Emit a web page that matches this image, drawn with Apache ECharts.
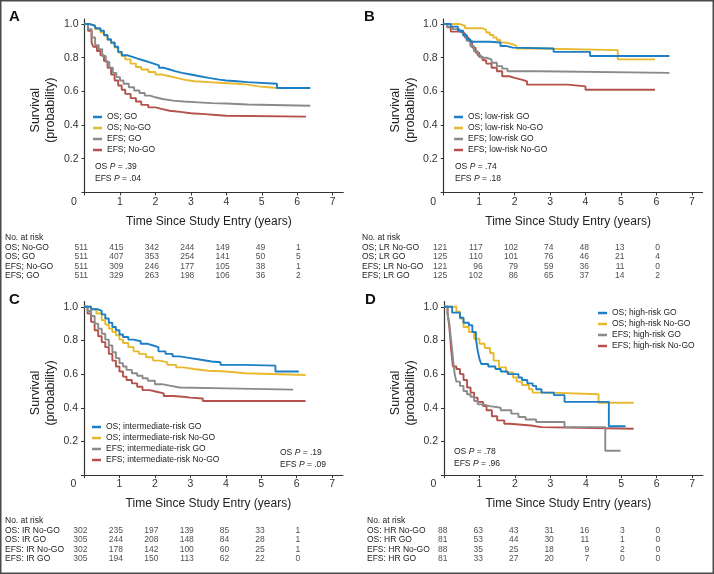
<!DOCTYPE html>
<html>
<head>
<meta charset="utf-8">
<script src="https://cdn.jsdelivr.net/npm/echarts@6/dist/echarts.min.js"></script>
<style>
  html, body { margin: 0; padding: 0; background: #fff; }
  #main { width: 714px; height: 574px; }
</style>
</head>
<body>
<div id="main"></div>
<script>
(function () {
var myChart = echarts.init(document.getElementById('main'));

var FONT = '"Liberation Sans", Arial, Helvetica, sans-serif';
var colors = ['#1c7ec4', '#e6b92e', '#8a8a8a', '#b4514b'];
var years = [0, 1, 2, 3, 4, 5, 6];

// ---- panel A: all patients
var namesA = ['OS; GO', 'OS; No-GO', 'EFS; GO', 'EFS; No-GO'];
var osGoA = [[0,1],[0.15,0.99],[0.3,0.975],[0.45,0.96],[0.55,0.935],[0.65,0.91],[0.75,0.89],[0.85,0.865],[0.95,0.835],[1.05,0.815],[1.2,0.805],[1.35,0.795],[1.5,0.785],[1.65,0.775],[1.8,0.765],[1.95,0.755],[2.1,0.74],[2.25,0.73],[2.4,0.72],[2.55,0.71],[2.75,0.70],[3.0,0.69],[3.25,0.68],[3.5,0.67],[3.8,0.665],[4.0,0.66],[4.3,0.655],[4.6,0.645],[5.43,0.62],[6.37,0.62]];
var osNoGoA = [[0,1],[0.15,0.99],[0.3,0.97],[0.45,0.95],[0.55,0.93],[0.65,0.905],[0.75,0.885],[0.85,0.86],[0.95,0.83],[1.05,0.81],[1.15,0.79],[1.3,0.765],[1.45,0.745],[1.6,0.73],[1.8,0.715],[2.0,0.70],[2.2,0.69],[2.4,0.68],[2.6,0.67],[2.8,0.66],[3.1,0.655],[3.5,0.65],[3.9,0.645],[4.3,0.64],[4.6,0.63],[4.9,0.62],[5.43,0.62]];
var efsGoA = [[0,1],[0.1,0.97],[0.2,0.92],[0.3,0.875],[0.4,0.85],[0.5,0.81],[0.6,0.775],[0.7,0.74],[0.8,0.71],[0.9,0.685],[1.0,0.665],[1.1,0.645],[1.25,0.625],[1.4,0.605],[1.55,0.59],[1.7,0.575],[1.85,0.565],[2.0,0.555],[2.2,0.545],[2.5,0.54],[2.8,0.535],[3.2,0.53],[3.6,0.528],[4.0,0.522],[4.6,0.515],[6.37,0.515]];
var efsNoGoA = [[0,1],[0.1,0.96],[0.2,0.89],[0.25,0.865],[0.35,0.84],[0.45,0.815],[0.55,0.78],[0.65,0.74],[0.75,0.70],[0.85,0.665],[0.95,0.635],[1.05,0.61],[1.15,0.585],[1.3,0.56],[1.45,0.54],[1.6,0.52],[1.8,0.505],[2.0,0.495],[2.2,0.485],[2.4,0.478],[2.7,0.47],[3.0,0.465],[3.4,0.46],[3.7,0.455],[4.0,0.45],[6.25,0.45]];
var riskRowsA = ['No. at risk', 'OS; No-GO', 'OS; GO', 'EFS; No-GO', 'EFS; GO'];
var riskA = [
  [511, 415, 342, 244, 149, 49, 1],
  [511, 407, 353, 254, 141, 50, 5],
  [511, 309, 246, 177, 105, 38, 1],
  [511, 329, 263, 198, 106, 36, 2]
];

// ---- panel B: low risk
var namesB = ['OS; low-risk GO', 'OS; low-risk No-GO', 'EFS; low-risk GO', 'EFS; low-risk No-GO'];
var osGoB = [[0,1],[0.2,0.985],[0.4,0.96],[0.55,0.935],[0.65,0.91],[0.75,0.895],[1.3,0.89],[1.6,0.87],[1.75,0.86],[1.95,0.855],[3.1,0.835],[4.13,0.81],[6.37,0.81]];
var osNoGoB = [[0,1],[0.45,0.99],[0.6,0.975],[1.1,0.965],[1.2,0.95],[1.3,0.935],[1.4,0.92],[1.5,0.905],[1.6,0.89],[1.75,0.88],[1.95,0.87],[2.05,0.855],[2.6,0.845],[4.91,0.79],[5.96,0.79]];
var efsGoB = [[0,1],[0.1,0.985],[0.25,0.97],[0.45,0.955],[0.55,0.93],[0.65,0.9],[0.75,0.87],[0.85,0.84],[0.95,0.815],[1.05,0.80],[1.2,0.79],[1.35,0.77],[1.5,0.75],[1.65,0.735],[1.8,0.72],[2.7,0.71],[6.37,0.71]];
var efsNoGoB = [[0,1],[0.1,0.98],[0.2,0.955],[0.45,0.945],[0.6,0.92],[0.7,0.9],[0.8,0.86],[0.9,0.83],[1.0,0.805],[1.1,0.785],[1.2,0.765],[1.35,0.74],[1.5,0.72],[1.65,0.69],[1.85,0.68],[2.0,0.67],[2.2,0.66],[2.35,0.64],[3.5,0.63],[4.0,0.61],[5.96,0.61]];
var riskRowsB = ['No. at risk', 'OS; LR No-GO', 'OS; LR GO', 'EFS; LR No-GO', 'EFS; LR GO'];
var riskB = [
  [121, 117, 102, 74, 48, 13, 0],
  [125, 110, 101, 76, 46, 21, 4],
  [121, 96, 79, 59, 36, 11, 0],
  [125, 102, 86, 65, 37, 14, 2]
];

// ---- panel C: intermediate risk
var namesC = ['OS; intermediate-risk GO', 'OS; intermediate-risk No-GO', 'EFS; intermediate-risk GO', 'EFS; intermediate-risk No-GO'];
var osGoC = [[0,1],[0.2,0.985],[0.4,0.975],[0.5,0.955],[0.6,0.93],[0.7,0.905],[0.8,0.88],[0.9,0.86],[1.0,0.835],[1.1,0.82],[1.25,0.805],[1.4,0.795],[1.6,0.78],[1.8,0.77],[1.95,0.76],[2.1,0.735],[2.3,0.72],[2.5,0.705],[2.7,0.695],[3.0,0.685],[3.3,0.675],[3.6,0.67],[3.85,0.655],[4.5,0.65],[5.4,0.615],[6.06,0.615]];
var osNoGoC = [[0,1],[0.2,0.985],[0.35,0.96],[0.5,0.92],[0.6,0.895],[0.7,0.87],[0.8,0.85],[0.9,0.83],[1.0,0.805],[1.1,0.785],[1.25,0.76],[1.4,0.735],[1.55,0.72],[1.75,0.70],[1.95,0.68],[2.15,0.67],[2.35,0.655],[2.6,0.64],[2.8,0.63],[3.1,0.62],[3.5,0.615],[4.0,0.605],[4.55,0.595],[6.25,0.595]];
var efsGoC = [[0,1],[0.1,0.975],[0.2,0.945],[0.3,0.9],[0.4,0.87],[0.5,0.84],[0.6,0.805],[0.7,0.77],[0.8,0.73],[0.9,0.695],[1.0,0.665],[1.1,0.645],[1.2,0.625],[1.35,0.605],[1.5,0.59],[1.65,0.575],[1.8,0.56],[2.0,0.54],[2.2,0.53],[2.45,0.52],[2.7,0.515],[4.0,0.508],[5.9,0.508]];
var efsNoGoC = [[0,1],[0.1,0.96],[0.2,0.91],[0.3,0.86],[0.4,0.825],[0.5,0.79],[0.6,0.76],[0.7,0.72],[0.8,0.68],[0.9,0.645],[1.0,0.615],[1.1,0.585],[1.2,0.565],[1.35,0.545],[1.5,0.525],[1.65,0.505],[1.85,0.495],[2.05,0.485],[2.25,0.47],[2.5,0.465],[2.8,0.46],[3.0,0.455],[3.35,0.44],[6.25,0.44]];
var riskRowsC = ['No. at risk', 'OS: IR No-GO', 'OS: IR GO', 'EFS: IR No-GO', 'EFS: IR GO'];
var riskC = [
  [302, 235, 197, 139, 85, 33, 1],
  [305, 244, 208, 148, 84, 28, 1],
  [302, 178, 142, 100, 60, 25, 1],
  [305, 194, 150, 113, 62, 22, 0]
];

// ---- panel D: high risk
var namesD = ['OS; high-risk GO', 'OS; high-risk No-GO', 'EFS; high-risk GO', 'EFS; high-risk No-GO'];
var osGoD = [[0,1],[0.23,0.965],[0.45,0.935],[0.55,0.905],[0.7,0.89],[0.8,0.85],[0.9,0.81],[0.95,0.74],[1.0,0.69],[1.05,0.66],[1.25,0.645],[1.45,0.63],[1.6,0.615],[1.8,0.60],[2.1,0.58],[2.2,0.565],[2.35,0.545],[2.5,0.53],[2.6,0.51],[2.75,0.49],[3.1,0.475],[3.4,0.435],[4.65,0.29],[5.12,0.29]];
var osNoGoD = [[0,1],[0.35,0.97],[0.45,0.93],[0.55,0.88],[0.7,0.85],[0.85,0.81],[1.0,0.78],[1.15,0.755],[1.3,0.725],[1.4,0.68],[1.55,0.64],[1.75,0.61],[1.95,0.58],[2.05,0.555],[2.2,0.535],[2.4,0.51],[2.5,0.49],[3.0,0.48],[4.36,0.43],[5.35,0.43]];
var efsGoD = [[0,1],[0.1,0.96],[0.15,0.9],[0.2,0.8],[0.25,0.7],[0.3,0.6],[0.35,0.555],[0.45,0.53],[0.55,0.5],[0.65,0.48],[0.75,0.465],[0.85,0.44],[0.95,0.42],[1.1,0.41],[1.3,0.40],[1.6,0.385],[1.9,0.365],[2.1,0.345],[2.3,0.33],[2.6,0.315],[3.4,0.285],[4.55,0.145],[4.98,0.145]];
var efsNoGoD = [[0,1],[0.1,0.96],[0.15,0.88],[0.2,0.75],[0.25,0.645],[0.35,0.63],[0.45,0.6],[0.55,0.565],[0.65,0.52],[0.75,0.49],[0.85,0.46],[0.95,0.435],[1.1,0.41],[1.2,0.385],[1.35,0.35],[1.5,0.325],[1.7,0.305],[1.85,0.295],[2.45,0.285],[2.75,0.275],[5.35,0.275]];
var riskRowsD = ['No. at risk', 'OS: HR No-GO', 'OS: HR GO', 'EFS: HR No-GO', 'EFS: HR GO'];
var riskD = [
  [88, 63, 43, 31, 16, 3, 0],
  [81, 53, 44, 30, 11, 1, 0],
  [88, 35, 25, 18, 9, 2, 0],
  [81, 33, 27, 20, 7, 0, 0]
];

// layout of each panel (pixels)
var panels = [
  { key: 'A', names: namesA, curves: [osGoA, osNoGoA, efsGoA, efsNoGoA], rows: riskRowsA, risk: riskA,
    left: 84.5, top: 19, tableTop: 233.3, rowX: 5, letter: [9, 9],
    legend: { left: 93, top: 111.5 }, p: ['.39', '.04'], pPos: [95, 161] },
  { key: 'B', names: namesB, curves: [osGoB, osNoGoB, efsGoB, efsNoGoB], rows: riskRowsB, risk: riskB,
    left: 443.7, top: 19, tableTop: 233.3, rowX: 362, letter: [364, 9],
    legend: { left: 454, top: 111.5 }, p: ['.74', '.18'], pPos: [455, 161] },
  { key: 'C', names: namesC, curves: [osGoC, osNoGoC, efsGoC, efsNoGoC], rows: riskRowsC, risk: riskC,
    left: 84, top: 301.7, tableTop: 516.3, rowX: 5, letter: [9, 292],
    legend: { left: 92, top: 421.5 }, p: ['.19', '.09'], pPos: [280, 447] },
  { key: 'D', names: namesD, curves: [osGoD, osNoGoD, efsGoD, efsNoGoD], rows: riskRowsD, risk: riskD,
    left: 444, top: 301.7, tableTop: 516.3, rowX: 367, letter: [365, 292],
    legend: { left: 598, top: 307.5 }, p: ['.78', '.96'], pPos: [454, 446] }
];

var XMAX = 7.3, PX_YEAR = 35.45, PLOT_H = 173.4, ROW_H = 9.5;

var grid = [], xAxis = [], yAxis = [], series = [], legend = [], graphic = [];

panels.forEach(function (p) {
  var gi = grid.length;
  grid.push({ left: p.left, top: p.top, width: XMAX * PX_YEAR, height: PLOT_H });
  grid.push({ left: p.left, top: p.tableTop, width: XMAX * PX_YEAR, height: ROW_H * p.rows.length });

  xAxis.push({
    gridIndex: gi, type: 'value', min: 0, max: XMAX, interval: 1,
    splitLine: { show: false },
    axisLine: { lineStyle: { color: '#333', width: 1.2 } },
    axisTick: { length: 3, lineStyle: { color: '#333' } },
    axisLabel: {
      margin: 4, color: '#333', fontSize: 10.5, fontFamily: FONT, showMaxLabel: false,
      formatter: function (v) { return v === 0 ? '{z|0}' : (v > 7 ? '' : String(v)); },
      rich: { z: { fontSize: 10.5, fontFamily: FONT, color: '#333', padding: [0, 21, 0, 0] } }
    },
    name: 'Time Since Study Entry (years)', nameLocation: 'middle', nameGap: 23,
    nameTextStyle: { fontSize: 12, fontFamily: FONT, color: '#222', padding: [0, 10, 0, 0] }
  });
  yAxis.push({
    gridIndex: gi, type: 'value', min: 0, max: 1.03, interval: 0.2,
    splitLine: { show: false },
    axisLine: { show: true, lineStyle: { color: '#333', width: 1.2 } },
    axisTick: { show: true, length: 3, lineStyle: { color: '#333' } },
    axisLabel: {
      margin: 6, color: '#333', fontSize: 10.5, fontFamily: FONT,
      formatter: function (v) { return v === 0 ? '' : v.toFixed(1); }
    },
    name: 'Survival\n(probability)', nameLocation: 'middle', nameGap: 26, nameRotate: 90,
    nameTextStyle: { fontSize: 12.5, lineHeight: 15, fontFamily: FONT, color: '#222', padding: [0, 0, 0, -9] }
  });

  // table axes
  xAxis.push({ gridIndex: gi + 1, type: 'value', min: 0, max: XMAX, show: false });
  yAxis.push({
    gridIndex: gi + 1, type: 'category', data: p.rows, inverse: true,
    axisLine: { show: false }, axisTick: { show: false }, splitLine: { show: false },
    axisLabel: { interval: 0, align: 'left', margin: p.left - p.rowX, color: '#222', fontSize: 8.5, fontFamily: FONT }
  });

  p.curves.forEach(function (c, k) {
    series.push({
      name: p.names[k], type: 'line', step: 'end', xAxisIndex: gi, yAxisIndex: gi,
      data: c, showSymbol: false, symbol: 'none', z: 10 - k,
      lineStyle: { color: colors[k], width: 1.9 }, itemStyle: { color: colors[k] }
    });
  });

  p.risk.forEach(function (row, r) {
    series.push({
      name: 'risk' + p.key + r, type: 'scatter', xAxisIndex: gi + 1, yAxisIndex: gi + 1,
      symbolSize: 0, silent: true,
      data: row.map(function (n, j) { return [years[j], r + 1, n]; }),
      label: {
        show: true, position: 'inside', align: 'right', offset: [3.5, 0],
        formatter: function (d) { return String(d.value[2]); },
        color: '#222', fontSize: 8.5, fontFamily: FONT
      }
    });
  });

  legend.push({
    data: p.names, orient: 'vertical', left: p.legend.left, top: p.legend.top,
    padding: 0, itemGap: 0, itemWidth: 9, itemHeight: 2.5, icon: 'rect',
    selectedMode: false,
    textStyle: { fontSize: 8.5, lineHeight: 11, color: '#222', fontFamily: FONT }
  });

  graphic.push({
    type: 'text', left: p.letter[0], top: p.letter[1],
    style: { text: p.key, font: 'bold 15px ' + FONT, fill: '#111' }
  });
  graphic.push({
    type: 'text', left: p.pPos[0], top: p.pPos[1],
    style: {
      text: 'OS {i|P} = ' + p.p[0] + '\nEFS {i|P} = ' + p.p[1],
      fontSize: 8.5, lineHeight: 11.5, fontFamily: FONT, fill: '#222',
      rich: { i: { fontStyle: 'italic', fontSize: 8.5, fontFamily: FONT, fill: '#222' } }
    }
  });
});

graphic.push({
  type: 'rect', shape: { x: 0.75, y: 0.75, width: 712.5, height: 572.5 },
  style: { fill: 'none', stroke: '#4a4a4a', lineWidth: 1.5 }, silent: true
});

var option = {
  animation: false,
  backgroundColor: '#fff',
  textStyle: { fontFamily: FONT },
  grid: grid,
  xAxis: xAxis,
  yAxis: yAxis,
  legend: legend,
  graphic: graphic,
  series: series
};

myChart.setOption(option);
window.addEventListener('resize', function () {
  myChart.resize();
});
})();
</script>
</body>
</html>
